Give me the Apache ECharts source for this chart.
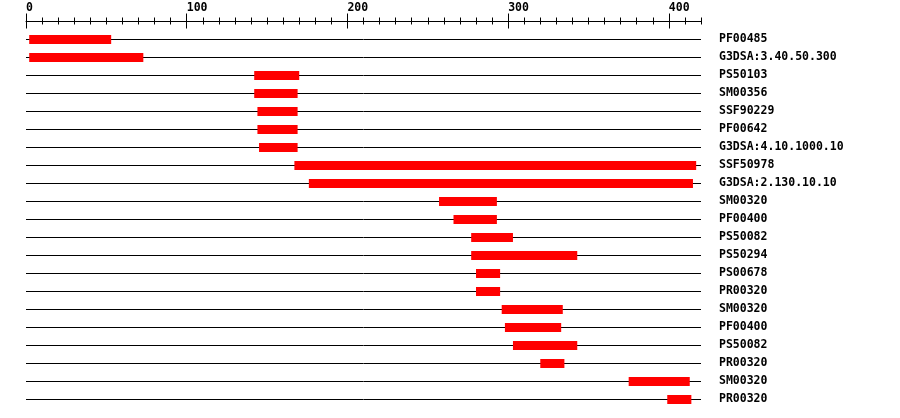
<!DOCTYPE html>
<html><head><meta charset="utf-8">
<script src="https://cdn.jsdelivr.net/npm/echarts@6/dist/echarts.min.js"></script>
<style>html,body{margin:0;padding:0;background:#fff}#c{width:900px;height:418px}</style>
</head><body><div id="c"></div>
<script>
var labels = ["PF00485","G3DSA:3.40.50.300","PS50103","SM00356","SSF90229","PF00642","G3DSA:4.10.1000.10","SSF50978","G3DSA:2.130.10.10","SM00320","PF00400","PS50082","PS50294","PS00678","PR00320","SM00320","PF00400","PS50082","PR00320","SM00320","PR00320"];
var starts = [2,2,142,142,144,144,145,167,176,257,266,277,277,280,280,296,298,303,320,375,399];
var ends = [53,73,170,169,169,169,169,417,415,293,293,303,343,295,295,334,333,343,335,413,414];
var seqLength = 420;
var majorTicks = [0,100,200,300,400];

var data = labels.map(function(l,i){return [i, starts[i], ends[i]];});
var font = {fontFamily:'DejaVu Sans Mono', fontWeight:'bold', fontSize:11.5, color:'#000'};

function baseX(extra){
  var o = {type:'value', position:'top', offset:9, min:0, max:seqLength, interval:10,
    splitLine:{show:false}, axisLine:{show:false}, axisLabel:{show:false},
    axisTick:{show:true, length:3.5, lineStyle:{color:'#000', width:1}}};
  for (var k in extra) o[k]=extra[k];
  return o;
}
var chart = echarts.init(document.getElementById('c'), null, {renderer:'canvas'});
chart.setOption({
  animation:false,
  grid:{left:26, right:199, top:30, bottom:10, containLabel:false},
  xAxis:[
    baseX({axisLine:{show:true, lineStyle:{color:'#000', width:1}},
      axisLabel:Object.assign({show:true, customValues:majorTicks, align:'left', margin:7}, font)}),
    baseX({axisTick:{show:true, inside:true, length:3.5, lineStyle:{color:'#000', width:1}}}),
    baseX({axisTick:{show:true, length:7.5, customValues:majorTicks, lineStyle:{color:'#000', width:1}}}),
    baseX({axisTick:{show:true, inside:true, length:7.5, customValues:majorTicks, lineStyle:{color:'#000', width:1}}})
  ],
  yAxis:{type:'category', data:labels, inverse:true, position:'right',
    axisLine:{show:false}, axisTick:{show:false}, splitLine:{show:false},
    axisLabel:Object.assign({margin:18, align:'left'}, font)},
  series:[{
    type:'custom', xAxisIndex:0,
    encode:{x:[1,2], y:0},
    data:data,
    renderItem:function(params, api){
      var row = api.value(0);
      var a = api.coord([0,row]);
      var b = api.coord([seqLength,row]);
      var s = api.coord([api.value(1),row]);
      var e = api.coord([api.value(2),row]);
      var h = 9;
      return {type:'group', children:[
        {type:'line', shape:{x1:a[0], y1:Math.round(a[1])+0.5, x2:b[0], y2:Math.round(a[1])+0.5}, style:{stroke:'#000', lineWidth:1}},
        {type:'rect', shape:{x:s[0], y:Math.round(a[1])-4, width:e[0]-s[0], height:h}, style:{fill:'#ff0000'}}
      ]};
    }
  }]
});
</script></body></html>
